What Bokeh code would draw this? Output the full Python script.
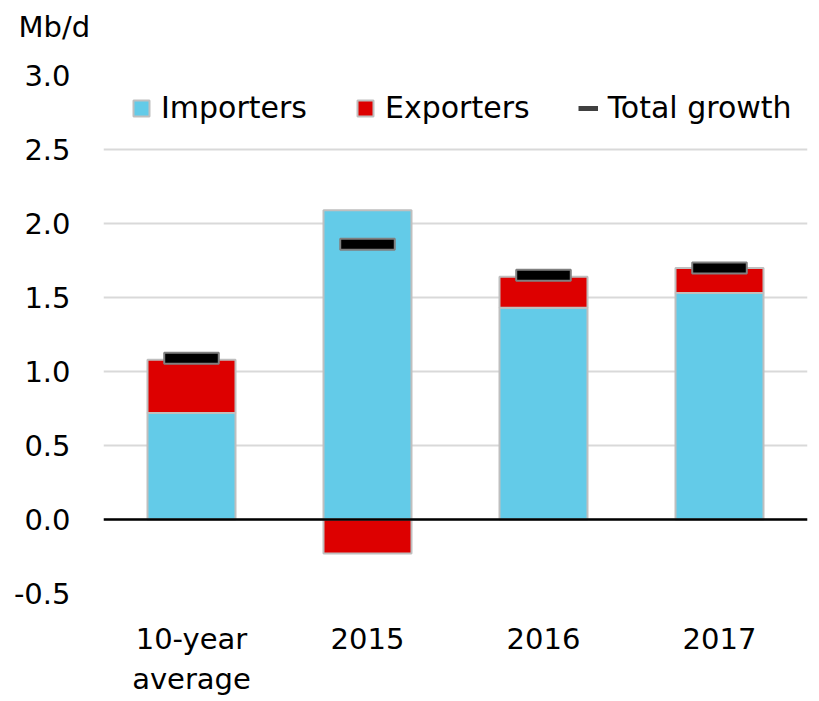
from bokeh.plotting import figure
from bokeh.models import (ColumnDataSource, Span, Legend, LegendItem, FactorRange,
                          FixedTicker, CustomJSTickFormatter, Title)
from bokeh.embed import file_html
from bokeh.resources import INLINE

categories = ["10-year\naverage", "2015", "2016", "2017"]
importers = [0.72, 2.09, 1.43, 1.53]
exporters = [0.36, -0.23, 0.21, 0.17]
total_growth = [1.09, 1.86, 1.65, 1.70]
y_ticks = [-0.5, 0.0, 0.5, 1.0, 1.5, 2.0, 2.5, 3.0]
unit_label = "Mb/d"

FONT = "DejaVu Sans"
FS = "29px"
BLUE = "#63CBE8"
RED = "#DD0000"
EDGE = "#BFBFBF"

exp_bottom = [i if e >= 0 else 0 for i, e in zip(importers, exporters)]
exp_top = [b + e for b, e in zip(exp_bottom, exporters)]

src = ColumnDataSource(dict(cat=categories, imp=importers, exb=exp_bottom, ext=exp_top,
                            tot=total_growth, hidden=[float("nan")] * len(categories)))

p = figure(x_range=FactorRange(*categories), y_range=(-0.5, 3.0),
           width=819, height=701, output_backend="svg", toolbar_location=None,
           min_border_left=103, min_border_right=12, min_border_top=75, min_border_bottom=108)
p.outline_line_color = None
p.background_fill_color = "white"
p.border_fill_color = "white"

r_imp = p.vbar(x="cat", bottom=0, top="imp", width=0.5, source=src,
               fill_color=BLUE, line_color=EDGE, line_width=2)
r_exp = p.vbar(x="cat", bottom="exb", top="ext", width=0.5, source=src,
               fill_color=RED, line_color=EDGE, line_width=2)
p.rect(x="cat", y="tot", width=0.31, height=11, height_units="screen", source=src,
       fill_color="black", line_color="#808080", line_width=2)
r_leg = p.line(x="cat", y="hidden", source=src, line_color="#404040", line_width=5)

p.add_layout(Span(location=0, dimension="width", line_color="black", line_width=2.5))

p.xgrid.grid_line_color = None
p.ygrid.grid_line_color = "#D9D9D9"
p.ygrid.grid_line_width = 2
p.yaxis.ticker = FixedTicker(ticks=y_ticks)
p.yaxis.formatter = CustomJSTickFormatter(code="return tick.toFixed(1);")

for ax in (p.xaxis, p.yaxis):
    ax.axis_line_color = None
    ax.major_tick_line_color = None
    ax.minor_tick_line_color = None
    ax.major_tick_out = 0
    ax.major_tick_in = 0
    ax.major_label_text_font = FONT
    ax.major_label_text_font_size = FS
    ax.major_label_text_color = "black"
p.yaxis.major_label_standoff = 33
p.xaxis.major_label_standoff = 28
p.xaxis.major_label_text_line_height = 1.2

p.title.text = unit_label
p.title.text_font = FONT
p.title.text_font_size = FS
p.title.text_font_style = "normal"
p.title.text_color = "black"
p.title.align = "left"
p.title.vertical_align = "top"
p.title.offset = -85
p.title.standoff = 14

# spacer between the unit label and the plot frame
p.add_layout(Title(text=" ", text_font_size="1px", standoff=20), "above")

legend = Legend(items=[LegendItem(label="Importers", renderers=[r_imp]),
                       LegendItem(label="Exporters", renderers=[r_exp]),
                       LegendItem(label="Total growth", renderers=[r_leg])],
                orientation="horizontal", location=(28, 468))
legend.label_text_font = FONT
legend.label_text_font_size = "30px"
legend.label_text_color = "black"
legend.glyph_width = 20
legend.glyph_height = 20
legend.label_standoff = 10
legend.spacing = 48
legend.padding = 0
legend.margin = 0
legend.border_line_color = None
legend.background_fill_alpha = 0
p.add_layout(legend)

open("out.html", "w").write(file_html(p, INLINE))
